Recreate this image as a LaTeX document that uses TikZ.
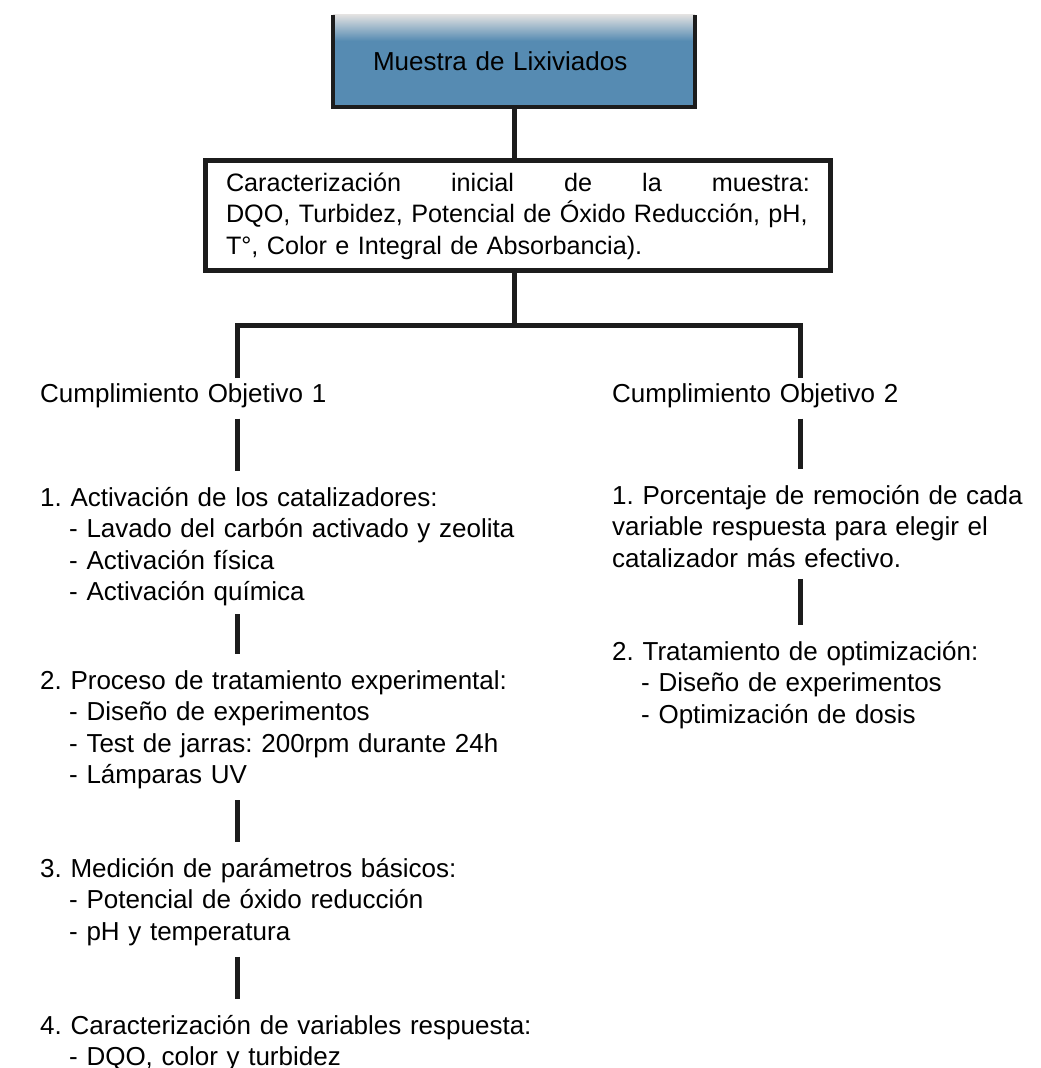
\documentclass[tikz,border=0pt]{standalone}
\usepackage{fontspec}
\setmainfont{Liberation Sans}
\usetikzlibrary{positioning,calc}

\definecolor{lixblue}{RGB}{86,139,178}
\definecolor{lineblk}{RGB}{28,28,28}
\newcommand{\subit}{\hspace*{29pt}- }

\begin{document}
\frenchspacing
\begin{tikzpicture}[x=1pt, y=-1pt,
  font=\fontsize{26}{31.5}\selectfont,
  topbox/.style={fill=lixblue, minimum width=362pt, minimum height=92pt,
                 text width=282pt, align=left, inner xsep=40pt},
  charbox/.style={draw=lineblk, line width=5pt, minimum width=625pt,
                  minimum height=110pt, text width=584pt, align=left,
                  font=\fontsize{25.2}{31.5}\selectfont},
  txt/.style={anchor=north west, text width=600pt, align=left,
              inner xsep=0pt, inner ysep=0pt},
  link/.style={draw=lineblk, line width=5pt},
  gap/.style={link, shorten <=11pt, shorten >=16pt}]
\useasboundingbox (0,0) rectangle (1041,1068);
% sample and its first characterisation
\node[topbox] (muestra) at (514,61) {Muestra de Lixiviados};
\shade[top color=black!12, bottom color=lixblue]
  (muestra.north west) rectangle ([yshift=-26pt]muestra.north east);
\draw[line width=4pt, lineblk] (muestra.north west) -- (muestra.south west)
  -- (muestra.south east) -- (muestra.north east);
\node[charbox] (carac) at (518,215)
  {\rule{0pt}{21pt}Caracterización\hfill inicial\hfill de\hfill la\hfill muestra:\\
   \mbox{DQO, Turbidez, Potencial de Óxido Reducción, pH,}\\
   \mbox{T°, Color e Integral de Absorbancia).}};
\draw[link] (muestra.south) -- (muestra.south |- carac.north);
% split into both objectives
\coordinate (split) at (514,325);
\coordinate (splitL) at (237,325);
\coordinate (splitR) at (800,325);
\node[txt] (obj1) at (40,383) {Cumplimiento Objetivo 1};
\node[txt] (obj2) at (612,383) {Cumplimiento Objetivo 2};
\draw[link] (split |- carac.south) -- (split);
\draw[link] ([yshift=5pt]splitL |- obj1.north) -- (splitL) -- (splitR)
  -- ([yshift=5pt]splitR |- obj2.north);
% objective 1
\node[txt] (activ) at (40,487) {1. Activación de los catalizadores:\\
  \subit Lavado del carbón activado y zeolita\\
  \subit Activación física\\
  \subit Activación química};
\node[txt] (proceso) at (40,670) {2. Proceso de tratamiento experimental:\\
  \subit Diseño de experimentos\\
  \subit Test de jarras: 200rpm durante 24h\\
  \subit Lámparas UV};
\node[txt] (medic) at (40,858) {3. Medición de parámetros básicos:\\
  \subit Potencial de óxido reducción\\
  \subit pH y temperatura};
\node[txt] (carvar) at (40,1015) {4. Caracterización de variables respuesta:\\
  \subit DQO, color y turbidez};
\draw[gap] (obj1.south -| splitL) -- (activ.north -| splitL);
\draw[gap, shorten <=8pt] (activ.south -| splitL) -- (proceso.north -| splitL);
\draw[gap] (proceso.south -| splitL) -- (medic.north -| splitL);
\draw[gap] (medic.south -| splitL) -- (carvar.north -| splitL);
% objective 2
\node[txt, text width=420pt] (porcent) at (612,485) {1. Porcentaje de remoción de cada\\
  variable respuesta para elegir el\\
  catalizador más efectivo.};
\node[txt] (optim) at (612,641) {2. Tratamiento de optimización:\\
  \subit Diseño de experimentos\\
  \subit Optimización de dosis};
\draw[gap] (obj2.south -| splitR) -- (porcent.north -| splitR);
\draw[gap] (porcent.south -| splitR) -- (optim.north -| splitR);
\end{tikzpicture}
\end{document}
